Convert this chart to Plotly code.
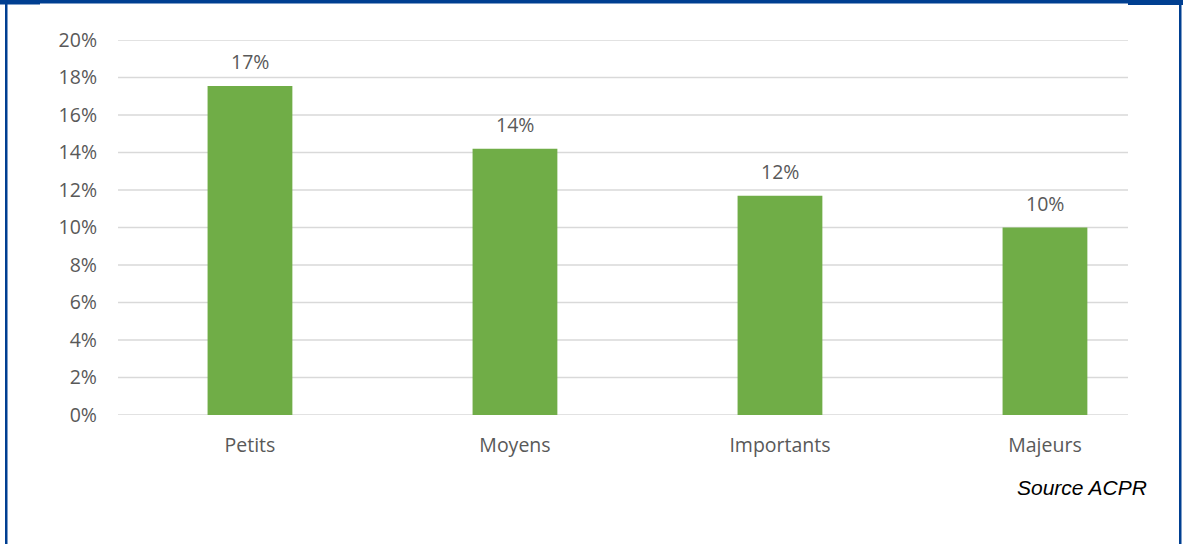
import plotly.graph_objects as go

categories = ["Petits", "Moyens", "Importants", "Majeurs"]
values = [17.55, 14.2, 11.7, 10.0]
value_labels = ["17%", "14%", "12%", "10%"]
y_ticks = [0, 2, 4, 6, 8, 10, 12, 14, 16, 18, 20]
y_tick_labels = [f"{v}%" for v in y_ticks]

W, H = 1183, 544
ML, MR, MT, MB = 118, 55, 40, 129
PW, PH = W - ML - MR, H - MT - MB

def px(x):
    return (x - ML) / PW

def py(y):
    return (H - MB - y) / PH

FRAME = "#003F91"
GRID = "#D9D9D9"
TXT = "#595959"
FS = 19.5

fig = go.Figure()
fig.add_trace(go.Bar(
    x=list(range(len(categories))), y=values,
    marker=dict(color="#70AD47", line=dict(width=0)),
    width=0.32, hoverinfo="skip",
))

for i, (v, lab) in enumerate(zip(values, value_labels)):
    fig.add_annotation(x=i, y=v, text=lab, showarrow=False, yanchor="bottom",
                       yshift=9, font=dict(family="Open Sans", size=FS, color=TXT))

shapes = []
for t in y_ticks:
    shapes.append(dict(type="line", xref="paper", yref="y", x0=0, x1=1, y0=t, y1=t,
                       line=dict(color=GRID, width=1.3), layer="below"))
# frame
shapes.append(dict(type="rect", xref="paper", yref="paper", x0=px(0), x1=px(W), y0=py(0), y1=py(3.5),
                   fillcolor=FRAME, line=dict(width=0)))
shapes.append(dict(type="rect", xref="paper", yref="paper", x0=px(0), x1=px(40), y0=py(0), y1=py(4.5),
                   fillcolor=FRAME, line=dict(width=0)))
shapes.append(dict(type="rect", xref="paper", yref="paper", x0=px(1128), x1=px(W), y0=py(0), y1=py(5),
                   fillcolor=FRAME, line=dict(width=0)))
shapes.append(dict(type="rect", xref="paper", yref="paper", x0=px(5), x1=px(7.5), y0=py(0), y1=py(H),
                   fillcolor=FRAME, line=dict(width=0)))
shapes.append(dict(type="rect", xref="paper", yref="paper", x0=px(1179), x1=px(1181.5), y0=py(0), y1=py(H),
                   fillcolor=FRAME, line=dict(width=0)))

fig.add_annotation(xref="paper", yref="paper", x=px(1149), y=py(487), xanchor="right", yanchor="middle",
                   text="<i>Source ACPR</i>", showarrow=False,
                   font=dict(family="Liberation Sans", size=21, color="#000000"))

fig.update_layout(
    width=W, height=H, margin=dict(l=ML, r=MR, t=MT, b=MB, pad=0),
    paper_bgcolor="white", plot_bgcolor="white", showlegend=False,
    shapes=shapes,
    xaxis=dict(range=[-0.498, -0.498 + PW / 265], tickmode="array",
               tickvals=list(range(len(categories))), ticktext=categories,
               showgrid=False, zeroline=False, showline=False, ticks="",
               tickfont=dict(family="Open Sans", size=FS, color=TXT), ticklabelstandoff=16),
    yaxis=dict(range=[0, 20], tickmode="array", tickvals=y_ticks, ticktext=y_tick_labels,
               showgrid=False, zeroline=False, showline=False, ticks="",
               tickfont=dict(family="Open Sans", size=FS, color=TXT), ticklabelstandoff=20),
)

fig.write_html("out.html")
